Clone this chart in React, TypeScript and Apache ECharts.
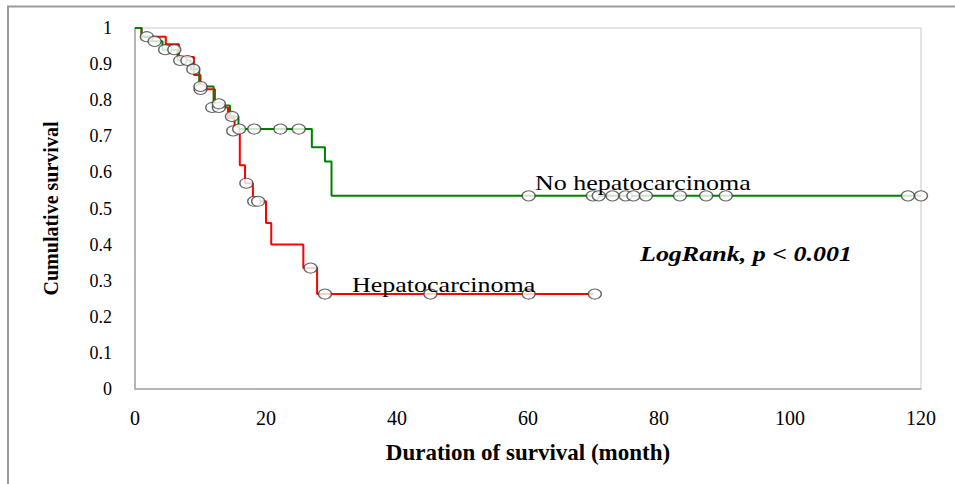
import React, { useEffect, useRef } from "react";
import * as echarts from "echarts";

// Kaplan-Meier step curves (time in months, cumulative survival)
const noHccTimes = [0, 1, 2.5, 4.2, 6.5, 8.5, 9.8, 12, 14.5, 15.8, 27, 29, 30, 120];
const noHccSurv = [1, 0.976, 0.963, 0.94, 0.91, 0.886, 0.838, 0.785, 0.755, 0.72, 0.67, 0.63, 0.535, 0.535];

const hccTimes = [0, 1, 4.7, 6.7, 9, 10, 12.2, 14.2, 15.2, 16, 16.8, 18, 20, 20.8, 25.7, 27.8, 70];
const hccSurv = [1, 0.976, 0.955, 0.92, 0.87, 0.83, 0.78, 0.75, 0.715, 0.62, 0.57, 0.52, 0.46, 0.4, 0.335, 0.263, 0.263];

// Censored observations
const noHccCensTimes = [1.8, 3, 4.6, 6, 6.9, 8, 8.9, 10, 12.8, 14.8, 15.9, 18.2, 22.2, 25, 60.1, 69.9, 70.8, 72.9, 74.9, 76.1, 78, 83.2, 87.2, 90.2, 118, 120];
const noHccCensSurv = [0.976, 0.963, 0.94, 0.94, 0.91, 0.91, 0.886, 0.838, 0.79, 0.755, 0.72, 0.72, 0.72, 0.72, 0.535, 0.535, 0.535, 0.535, 0.535, 0.535, 0.535, 0.535, 0.535, 0.535, 0.535, 0.535];

const hccCensTimes = [10, 11.8, 12.8, 15, 17, 18.2, 18.8, 26.8, 29, 45.1, 60.1, 70.2];
const hccCensSurv = [0.83, 0.78, 0.78, 0.715, 0.57, 0.52, 0.52, 0.335, 0.263, 0.263, 0.263, 0.263];

const xTicks = { min: 0, max: 120, interval: 20 };
const yTicks = { min: 0, max: 1, interval: 0.1 };

const xTitle = "Duration of survival (month)";
const yTitle = "Cumulative survival";
const noHccLabel = "No hepatocarcinoma";
const hccLabel = "Hepatocarcinoma";
const statLabel = "LogRank, p < 0.001";

const zip = (a: number[], b: number[]) => a.map((v, i) => [v, b[i]]);

export default function App() {
  const ref = useRef<HTMLDivElement>(null);
  useEffect(() => {
    if (!ref.current) return;
    const chart = echarts.init(ref.current, undefined, { renderer: "svg" });
    const serif = "'Liberation Serif', 'Times New Roman', serif";
    const circleStyle = { color: "#ffffff", borderColor: "#404040", borderWidth: 1.2 };
    chart.setOption({
      animation: false,
      backgroundColor: "#ffffff",
      textStyle: { fontFamily: serif },
      grid: { left: 135, right: 34, top: 28, bottom: 95, show: true, borderColor: "#c8c8c8", borderWidth: 1 },
      xAxis: {
        type: "value",
        ...xTicks,
        name: xTitle,
        nameLocation: "middle",
        nameGap: 52,
        nameTextStyle: { fontFamily: serif, fontWeight: "bold", fontSize: 23, color: "#000" },
        axisLine: { show: true, lineStyle: { color: "#a6a6a6", width: 1.5 } },
        axisTick: { show: false },
        splitLine: { show: false },
        axisLabel: { fontFamily: serif, fontSize: 20, color: "#000", margin: 19 },
      },
      yAxis: {
        type: "value",
        ...yTicks,
        name: yTitle,
        nameLocation: "middle",
        nameGap: 74,
        nameTextStyle: { fontFamily: serif, fontWeight: "bold", fontSize: 20, color: "#000" },
        axisLine: { show: true, lineStyle: { color: "#a6a6a6", width: 1.5 } },
        axisTick: { show: false },
        splitLine: { show: false },
        axisLabel: { fontFamily: serif, fontSize: 18, color: "#000", margin: 23 },
      },
      series: [
        {
          type: "line",
          step: "end",
          data: zip(hccTimes, hccSurv),
          showSymbol: false,
          lineStyle: { color: "#ff0000", width: 2 },
          itemStyle: { color: "#ff0000" },
          z: 2,
        },
        {
          type: "line",
          step: "end",
          data: zip(noHccTimes, noHccSurv),
          showSymbol: false,
          lineStyle: { color: "#008000", width: 2 },
          itemStyle: { color: "#008000" },
          z: 3,
        },
        {
          type: "scatter",
          data: zip(hccCensTimes, hccCensSurv),
          symbol: "circle",
          symbolSize: [13, 10],
          itemStyle: circleStyle,
          z: 4,
        },
        {
          type: "scatter",
          data: zip(noHccCensTimes, noHccCensSurv),
          symbol: "circle",
          symbolSize: [13, 10],
          itemStyle: circleStyle,
          z: 5,
        },
      ],
      graphic: [
        {
          type: "rect",
          shape: { x: 8, y: 6.5, width: 1200, height: 1200 },
          style: { fill: "none", stroke: "#9a9a9a", lineWidth: 2 },
          silent: true,
          z: 0,
        },
        {
          type: "text",
          x: 535,
          y: 183,
          scaleX: 1.3,
          style: { text: noHccLabel, fontFamily: serif, fontSize: 20, fill: "#000", verticalAlign: "middle", align: "left" },
          z: 10,
        },
        {
          type: "text",
          x: 352,
          y: 285,
          scaleX: 1.3,
          style: { text: hccLabel, fontFamily: serif, fontSize: 20, fill: "#000", verticalAlign: "middle", align: "left" },
          z: 10,
        },
        {
          type: "text",
          x: 640,
          y: 254,
          scaleX: 1.3,
          style: { text: statLabel, fontFamily: serif, fontSize: 20, fontWeight: "bold", fontStyle: "italic", fill: "#000", verticalAlign: "middle", align: "left" },
          z: 10,
        },
      ],
    });
    return () => chart.dispose();
  }, []);
  return <div ref={ref} style={{ position: "absolute", left: 0, top: 0, width: 955, height: 484 }} />;
}
